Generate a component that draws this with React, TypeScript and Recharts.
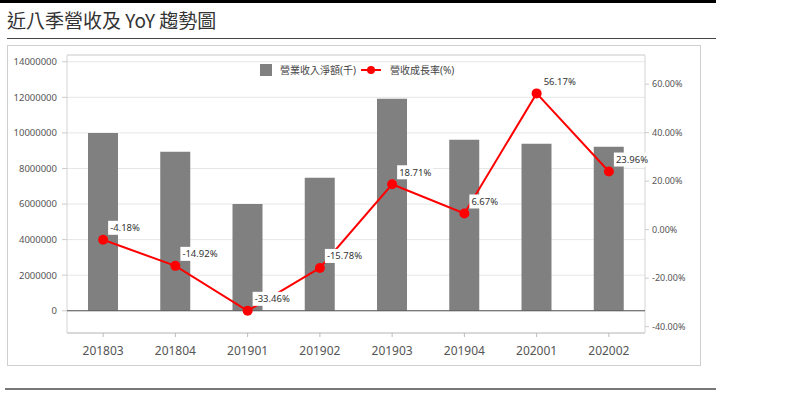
import {
  ComposedChart,
  Bar,
  Line,
  XAxis,
  YAxis,
  CartesianGrid,
  ReferenceLine,
  ReferenceArea,
} from "recharts";

const quarters = ["201803", "201804", "201901", "201902", "201903", "201904", "202001", "202002"];
const revenue = [10000000, 8940000, 6000000, 7480000, 11920000, 9610000, 9390000, 9220000];
const yoy = [-4.18, -14.92, -33.46, -15.78, 18.71, 6.67, 56.17, 23.96];

const revenueTicks = [0, 2000000, 4000000, 6000000, 8000000, 10000000, 12000000, 14000000];
const yoyTicks = [-40, -20, 0, 20, 40, 60];

const data = quarters.map((q, i) => ({ q, revenue: revenue[i], yoy: yoy[i] }));

const FONT = '"Noto Sans", "Noto Sans CJK TC", sans-serif';
const RED = "#ff0000";

const RateLabel = (props: any) => {
  const { x, y, value } = props;
  const text = `${Number(value).toFixed(2)}%`;
  const w = text.length * 5.3 + 4;
  return (
    <g>
      <rect x={x + 5} y={y - 19} width={w} height={14} fill="#fff" />
      <text x={x + 7} y={y - 8.5} fontSize={9.5} fill="#333" fontFamily={FONT}>
        {text}
      </text>
    </g>
  );
};

const App = () => {
  return (
    <div style={{ position: "absolute", top: 0, left: 0, width: 795, height: 397, background: "#fff", fontFamily: FONT }}>
      <div style={{ position: "absolute", left: 0, top: 0, width: 716, height: 3, background: "#000" }} />
      <div style={{ position: "absolute", left: 7, top: 7, fontSize: 19, color: "#333", lineHeight: "26px", fontFamily: '"Noto Sans CJK TC", sans-serif' }}>
        近八季營收及 YoY 趨勢圖
      </div>
      <div style={{ position: "absolute", left: 7, top: 38, width: 709, height: 1, background: "#444" }} />

      <div style={{ position: "absolute", left: 7, top: 45, width: 692, height: 319, border: "1px solid #cfcfcf" }}>
        <ComposedChart width={692} height={319} data={data} margin={{ top: 9, right: 0, bottom: 0, left: 0 }}>
          <CartesianGrid yAxisId="left" vertical={false} stroke="#e6e6e6" />
          <XAxis
            dataKey="q"
            height={32}
            tickSize={4}
            tickMargin={9}
            axisLine={{ stroke: "#cfcfcf" }}
            tickLine={{ stroke: "#bbb" }}
            tick={{ fontSize: 12, fill: "#555", fontFamily: FONT }}
          />
          <YAxis
            yAxisId="left"
            width={59}
            domain={[-1250000, 14380000]}
            ticks={revenueTicks}
            axisLine={false}
            tickSize={5}
            tickMargin={5}
            tickLine={{ stroke: "#ccc" }}
            tick={{ fontSize: 9.5, fill: "#555", fontFamily: FONT }}
          />
          <YAxis
            yAxisId="right"
            orientation="right"
            width={55}
            domain={[-42.6, 72]}
            ticks={yoyTicks}
            axisLine={false}
            tickSize={4}
            tickMargin={3}
            tickLine={{ stroke: "#ccc" }}
            tickFormatter={(v: number) => `${v.toFixed(2)}%`}
            tick={{ fontSize: 9, fill: "#555", fontFamily: FONT }}
          />
          <ReferenceArea yAxisId="left" y1={-1250000} y2={14380000} fill="none" stroke="#d4d4d4" ifOverflow="visible" />
          <Bar yAxisId="left" dataKey="revenue" fill="#808080" barSize={30} isAnimationActive={false} />
          <ReferenceLine yAxisId="left" y={0} stroke="#555" strokeWidth={1.2} />
          <Line
            yAxisId="right"
            dataKey="yoy"
            stroke={RED}
            strokeWidth={2}
            dot={{ r: 5, fill: RED, stroke: RED, strokeWidth: 0 }}
            label={<RateLabel />}
            isAnimationActive={false}
          />
        </ComposedChart>
      </div>

      <div style={{ position: "absolute", left: 260, top: 62, display: "flex", alignItems: "center", fontSize: 10, color: "#444" }}>
        <span style={{ width: 12, height: 12, background: "#808080", display: "inline-block", marginRight: 8 }} />
        <span>營業收入淨額(千)</span>
        <svg width={22} height={12} style={{ marginLeft: 4, marginRight: 8 }}>
          <line x1={1} y1={6} x2={21} y2={6} stroke={RED} strokeWidth={2} />
          <circle cx={11} cy={6} r={4} fill={RED} />
        </svg>
        <span>營收成長率(%)</span>
      </div>

      <div style={{ position: "absolute", left: 5, top: 388, width: 711, height: 2, background: "#777" }} />
    </div>
  );
};

export default App;
